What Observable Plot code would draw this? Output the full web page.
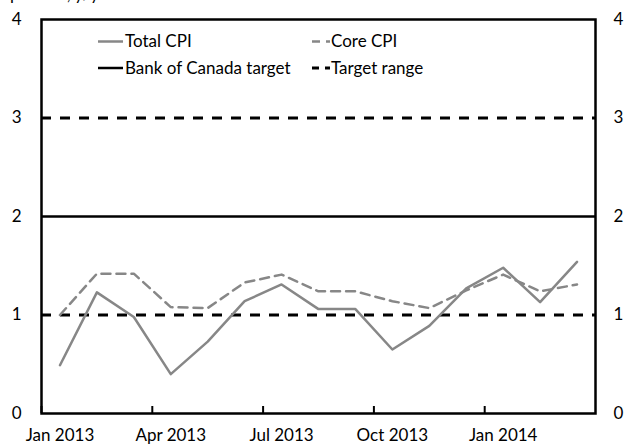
<!DOCTYPE html>
<html>
<head>
<meta charset="utf-8">
<script src="https://cdn.jsdelivr.net/npm/d3@7"></script>
<script src="https://cdn.jsdelivr.net/npm/@observablehq/plot@0.6"></script>
<style>
  html, body { margin: 0; padding: 0; background: #fff; }
  #wrap { position: relative; width: 626px; height: 445px; overflow: hidden; font-family: Lato, sans-serif; }
  #sub { position: absolute; left: 10px; top: -15px; font-size: 17px; line-height: 17px; color: #000; white-space: nowrap; }
  #legend { position: absolute; left: 0; top: 0; }
</style>
</head>
<body>
<div id="wrap">
  <div id="sub">percent, y/y</div>
</div>
<script>
const months = ["Jan 2013","Feb 2013","Mar 2013","Apr 2013","May 2013","Jun 2013","Jul 2013","Aug 2013","Sep 2013","Oct 2013","Nov 2013","Dec 2013","Jan 2014","Feb 2014","Mar 2014"];
const totalCPI = [0.49, 1.23, 0.98, 0.40, 0.73, 1.14, 1.31, 1.06, 1.06, 0.65, 0.89, 1.27, 1.48, 1.13, 1.54];
const coreCPI  = [1.00, 1.42, 1.42, 1.08, 1.07, 1.33, 1.41, 1.24, 1.24, 1.14, 1.07, 1.25, 1.41, 1.24, 1.31];
const target = 2;
const targetRange = [1, 3];
const yTicks = [0, 1, 2, 3, 4];
const xLabelIdx = [0, 3, 6, 9, 12];
const xTickBounds = [-0.5, 2.5, 5.5, 8.5, 11.5];

const gray = "#878787";
const total = months.map((m, i) => ({i, v: totalCPI[i]}));
const core = months.map((m, i) => ({i, v: coreCPI[i]}));

const chart = Plot.plot({
  width: 626,
  height: 445,
  marginLeft: 41,
  marginRight: 31,
  marginTop: 19,
  marginBottom: 32,
  style: {fontFamily: "Lato, sans-serif", fontSize: "17px", color: "#000", background: "#fff", overflow: "visible"},
  x: {type: "linear", domain: [-0.5, months.length - 0.5], label: null},
  y: {domain: [0, 4], label: null},
  marks: [
    Plot.ruleY([target], {stroke: "#000", strokeWidth: 2.5}),
    Plot.ruleY(targetRange, {stroke: "#000", strokeWidth: 3, strokeDasharray: "10,9"}),
    Plot.line(core, {x: "i", y: "v", stroke: gray, strokeWidth: 2.5, strokeDasharray: "9,6"}),
    Plot.line(total, {x: "i", y: "v", stroke: gray, strokeWidth: 2.5}),
    Plot.axisX({ticks: xTickBounds, tickSize: -7, tickFormat: () => "", label: null, stroke: "#000", strokeWidth: 2}),
    Plot.axisX({ticks: xLabelIdx, tickSize: 0, tickPadding: 15, tickFormat: i => months[i], label: null, fontSize: 17}),
    Plot.axisY({ticks: yTicks, tickSize: 0, tickPadding: 20, tickFormat: d3.format("d"), anchor: "left", label: null, fontSize: 17}),
    Plot.axisY({ticks: yTicks, tickSize: 0, tickPadding: 18, tickFormat: d3.format("d"), anchor: "right", label: null, fontSize: 17}),
    Plot.frame({stroke: "#000", strokeWidth: 2.5})
  ]
});

const wrap = document.getElementById("wrap");
wrap.insertBefore(chart, wrap.firstChild);

// Legend overlay
const ns = "http://www.w3.org/2000/svg";
const leg = document.createElementNS(ns, "svg");
leg.setAttribute("id", "legend");
leg.setAttribute("width", 626);
leg.setAttribute("height", 90);
const items = [
  {label: "Total CPI", color: gray, dash: null, w: 2.5, x: 98, y: 41.5},
  {label: "Core CPI", color: gray, dash: "8,6", w: 2.5, x: 312, y: 41.5},
  {label: "Bank of Canada target", color: "#000", dash: null, w: 2.5, x: 98, y: 68},
  {label: "Target range", color: "#000", dash: "7,6", w: 3, x: 312, y: 68}
];
const legW = 25;
for (const it of items) {
  const dashed = !!it.dash;
  const ln = document.createElementNS(ns, "line");
  ln.setAttribute("x1", it.x);
  ln.setAttribute("x2", it.x + (dashed ? 18 : legW));
  ln.setAttribute("y1", it.y);
  ln.setAttribute("y2", it.y);
  ln.setAttribute("stroke", it.color);
  ln.setAttribute("stroke-width", it.w);
  if (dashed) ln.setAttribute("stroke-dasharray", it.dash);
  leg.appendChild(ln);
  const t = document.createElementNS(ns, "text");
  t.setAttribute("x", it.x + (dashed ? 19 : 27));
  t.setAttribute("y", it.y);
  t.setAttribute("dy", "0.35em");
  t.setAttribute("font-family", "Lato, sans-serif");
  t.setAttribute("font-size", "17");
  t.setAttribute("fill", "#000");
  t.textContent = it.label;
  leg.appendChild(t);
}
wrap.appendChild(leg);
</script>
</body>
</html>
